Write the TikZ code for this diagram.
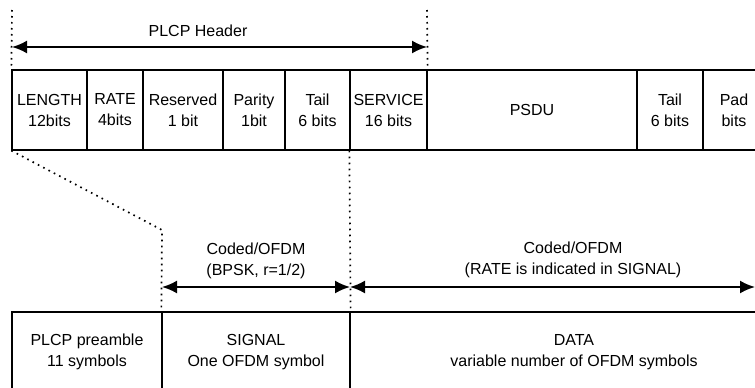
\documentclass[tikz,border=0pt]{standalone}
\usepackage{fontspec}
\setmainfont{Liberation Sans}
\usetikzlibrary{arrows.meta}

\begin{document}
\begin{tikzpicture}[
    x=1pt, y=-1pt,
    font=\fontsize{16}{21}\selectfont,
    field/.style={draw, line width=1.3pt, align=center, inner sep=0pt, minimum height=80pt},
    guide/.style={line width=1.7pt, dash pattern=on 1.6pt off 4.4pt},
    span/.style={line width=2pt, {Latex[length=15pt,width=13pt]}-{Latex[length=15pt,width=13pt]}}
]
    \useasboundingbox (0,0) rectangle (755,388);

    % Campos de la trama
    \foreach \name/\xa/\xb/\txt in {len/12/87/{LENGTH\\12bits}, rate/87/143/{RATE\\4bits},
        res/143/223/{Reserved\\1 bit}, par/223/285/{Parity\\1bit}, tail/285/350/{Tail\\6 bits},
        svc/350/427/{SERVICE\\16 bits}, psdu/427/637/{PSDU}, tailb/637/703/{Tail\\6 bits},
        pad/703/765/{Pad\\bits}} {
        \node[field, minimum width={(\xb-\xa)*1pt}] (\name) at ({(\xa+\xb)/2},110) {\txt};
    }

    % Simbolos OFDM
    \foreach \name/\xa/\xb/\txt in {pre/12/162/{PLCP preamble\\11 symbols},
        sig/162/350/{SIGNAL\\One OFDM symbol}, data/350/798/{DATA\\variable number of OFDM symbols}} {
        \node[field, minimum width={(\xb-\xa)*1pt}] (\name) at ({(\xa+\xb)/2},352) {\txt};
    }

    % Lineas guia
    \coordinate (hdrL) at (12,10);
    \coordinate (hdrR) at (427,10);
    \coordinate (bend) at (162,230);
    \draw[guide] (hdrL) -- (len.north west);
    \draw[guide] (hdrR) -- (svc.north east);
    \draw[guide] (len.south west) -- (bend) -- (sig.north west);
    \draw[guide] (svc.south west) -- (sig.north east);

    % Flechas
    \coordinate (hdrA) at (12,47);
    \coordinate (hdrB) at (427,47);
    \coordinate (sigA) at (162,287);
    \coordinate (sigB) at (350,287);
    \coordinate (dataB) at (755,287);
    \draw[span] (hdrA) -- (hdrB);
    \draw[span] (sigA) -- (sigB);
    \draw[span] (sigB) -- (dataB);

    \node (hdrlbl) at (198,31) {PLCP Header};
    \node[align=center] (siglbl) at (256,261) {Coded/OFDM\\(BPSK, r=1/2)};
    \node[align=center] (datalbl) at (573,260) {Coded/OFDM\\(RATE is indicated in SIGNAL)};
\end{tikzpicture}
\end{document}
